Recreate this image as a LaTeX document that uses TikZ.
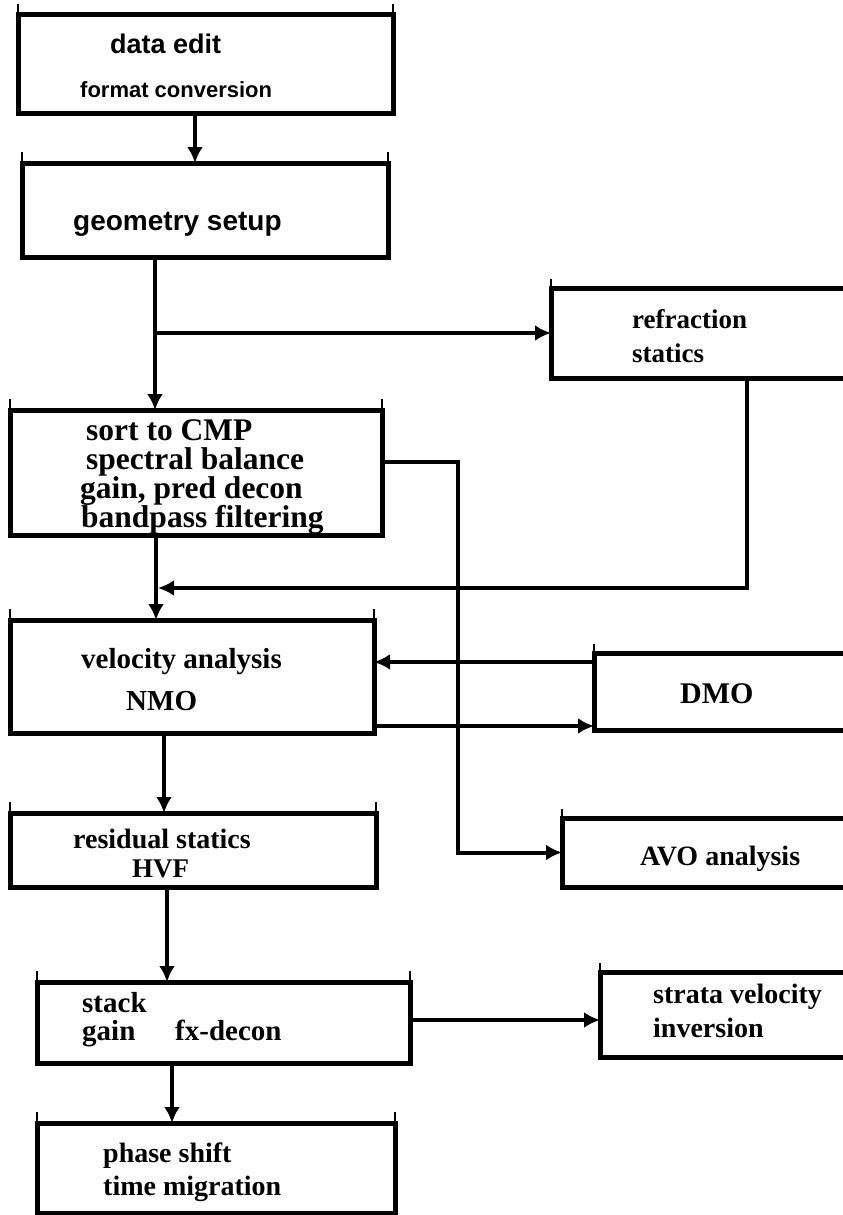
\documentclass[tikz,border=0pt]{standalone}
\usepackage{fontspec}
\setmainfont{Liberation Serif}
\newfontfamily\stagesans{Liberation Sans}
\usetikzlibrary{arrows.meta}
\newcommand{\stagesize}[1]{\fontsize{#1}{#1}\selectfont}

\begin{document}
\begin{tikzpicture}[x=1pt,y=-1pt,
        stage/.style={draw, line width=5pt, inner sep=0pt, outer sep=0pt},
        arr/.style={line width=4pt, -{Latex[length=16pt,width=16pt]}},
        tick/.style={line width=1.2pt},
        sanstxt/.style={anchor=base west, inner sep=0pt, font=\stagesans\bfseries\stagesize{#1}},
        sertxt/.style={anchor=base west, inner sep=0pt, font=\bfseries\stagesize{#1}}]
        \useasboundingbox (0,0) rectangle (843,1215);

        % main column
        \node[stage, minimum width=375pt, minimum height=98pt] (edit) at (205.5,64) {};
        \node[stage, minimum width=366pt, minimum height=94pt] (geom) at (205,210) {};
        \node[stage, minimum width=372pt, minimum height=125pt] (cmp) at (196,472.5) {};
        \node[stage, minimum width=364pt, minimum height=113pt] (vel) at (192,676.5) {};
        \node[stage, minimum width=366pt, minimum height=74pt] (res) at (193,850) {};
        \node[stage, minimum width=373pt, minimum height=81pt] (stk) at (223.5,1022.5) {};
        \node[stage, minimum width=358pt, minimum height=90pt] (mig) at (216,1168) {};

        % side boxes, cut by the right edge
        \node[stage, minimum width=319pt, minimum height=90pt] (refr) at (710.5,333) {};
        \node[stage, minimum width=276pt, minimum height=77pt] (dmo) at (732,691.5) {};
        \node[stage, minimum width=308pt, minimum height=69pt] (avo) at (716,852.5) {};
        \node[stage, minimum width=270pt, minimum height=85pt] (strata) at (735,1014.5) {};

        \foreach \b in {edit,geom,cmp,vel,res,stk,mig} {
            \draw[tick] (\b.north west) -- ++(0,-11);
            \draw[tick] (\b.north east) -- ++(0,-11);
        }
        \foreach \b in {refr,dmo,avo,strata}
            \draw[tick] (\b.north west) -- ++(0,-9);

        % texts
        \node[sanstxt=27] (t-edit) at (110,53) {data edit};
        \node[sanstxt=22] (t-format) at (80,97) {format conversion};
        \node[sanstxt=28] (t-geom) at (73,230) {geometry setup};
        \node[sertxt=27] (t-refr) at (632,328) {refraction};
        \node[sertxt=27] (t-stat) at (632,362) {statics};
        \node[sertxt=31.5] (t-sort) at (86,440) {sort to CMP};
        \node[sertxt=31.5] (t-spec) at (86,469) {spectral balance};
        \node[sertxt=31.5] (t-gain) at (80,498) {gain, pred decon};
        \node[sertxt=31.5] (t-band) at (81,527) {bandpass filtering};
        \node[sertxt=29] (t-vel) at (81,668) {velocity analysis};
        \node[sertxt=29] (t-nmo) at (126,710) {NMO};
        \node[sertxt=30] (t-dmo) at (680,703) {DMO};
        \node[sertxt=28] (t-avo) at (640,865) {AVO analysis};
        \node[sertxt=28] (t-res) at (73,848) {residual statics};
        \node[sertxt=27] (t-hvf) at (132,877) {HVF};
        \node[sertxt=29] (t-stack) at (82,1012) {stack};
        \node[sertxt=29] (t-sgain) at (82,1040) {gain};
        \node[sertxt=29] (t-fx) at (175,1040) {fx-decon};
        \node[sertxt=28] (t-strata) at (653,1003) {strata velocity};
        \node[sertxt=28] (t-inv) at (653,1037) {inversion};
        \node[sertxt=28] (t-phase) at (103,1162) {phase shift};
        \node[sertxt=28] (t-time) at (103,1195) {time migration};

        % connectors
        \coordinate (split) at (155,333);
        \coordinate (join) at (158,588);
        \coordinate (avobend) at (458,462);

        \draw[arr] ([xshift=-10.5pt]edit.south) -- ([xshift=-10pt]geom.north);
        \draw[arr] ([xshift=-50pt]geom.south) -- ([xshift=-41pt]cmp.north);
        \draw[arr] (split) -- (refr.west);
        \draw[arr] ([xshift=36.5pt]refr.south) |- (join);
        \draw[arr] ([xshift=-40pt]cmp.south) -- ([xshift=-36pt]vel.north);
        \draw[arr] ([yshift=10.5pt]cmp.east) -- (avobend) |- (avo.west);
        \draw[arr] ([yshift=29.5pt]dmo.west) -- ([yshift=14.5pt]vel.east);
        \draw[arr] ([yshift=-49.5pt]vel.east) -- ([yshift=-34.5pt]dmo.west);
        \draw[arr] ([xshift=-28pt]vel.south) -- ([xshift=-29pt]res.north);
        \draw[arr] ([xshift=-26pt]res.south) -- ([xshift=-56.5pt]stk.north);
        \draw[arr] ([yshift=2.5pt]stk.east) -- ([yshift=-5.5pt]strata.west);
        \draw[arr] ([xshift=-51.5pt]stk.south) -- ([xshift=-44pt]mig.north);
\end{tikzpicture}
\end{document}
